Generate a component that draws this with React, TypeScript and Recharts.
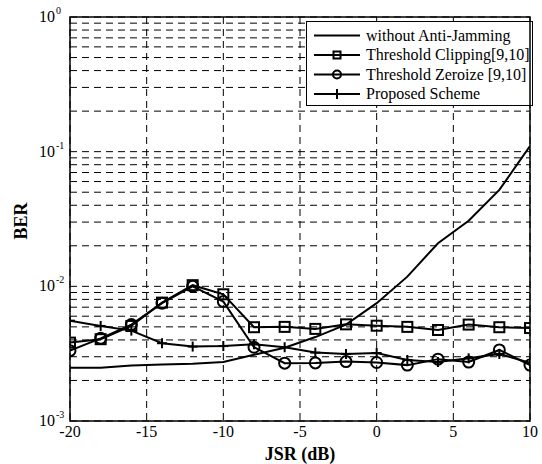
import React from "react";
import { LineChart, Line, XAxis, YAxis, CartesianGrid, ReferenceArea } from "recharts";

// JSR (dB) sample points
const jsr = [-20, -18, -16, -14, -12, -10, -8, -6, -4, -2, 0, 2, 4, 6, 8, 10];

// BER
const withoutAJ = [0.00249, 0.00249, 0.00258, 0.00263, 0.00266, 0.00274, 0.0031, 0.0035, 0.0042, 0.0052, 0.0075, 0.0118, 0.0209, 0.0307, 0.052, 0.11];
const clipping = [0.00382, 0.00405, 0.00508, 0.00757, 0.0102, 0.00873, 0.00497, 0.005, 0.00483, 0.00522, 0.0051, 0.005, 0.00474, 0.0052, 0.00497, 0.0049];
const zeroize = [0.00333, 0.00411, 0.0052, 0.0075, 0.01, 0.0077, 0.00353, 0.00269, 0.0027, 0.00276, 0.00272, 0.0026, 0.00288, 0.00274, 0.00337, 0.0026];
const proposed = [0.00556, 0.00508, 0.00469, 0.00378, 0.00357, 0.0036, 0.00372, 0.00353, 0.00322, 0.00315, 0.0032, 0.00284, 0.00274, 0.00292, 0.00315, 0.0027];

const seriesNames = ["without Anti-Jamming", "Threshold Clipping[9,10]", "Threshold Zeroize [9,10]", "Proposed Scheme"];

const xTicks = [-20, -15, -10, -5, 0, 5, 10];
const decades = [0.001, 0.01, 0.1, 1];
// major + minor log ticks (1..9 per decade)
const yTicks: number[] = [];
for (let d = 0; d < 3; d++) {
  for (let m = 1; m <= 9; m++) yTicks.push(Number((m * decades[d]).toPrecision(3)));
}
yTicks.push(1);

const data = jsr.map((x, i) => ({
  jsr: x,
  noaj: withoutAJ[i],
  clip: clipping[i],
  zero: zeroize[i],
  prop: proposed[i],
}));

const FONT = "'Liberation Serif', 'Times New Roman', serif";
const serif = { fontFamily: FONT };

const Square = ({ cx, cy }: any) => (
  <rect x={cx - 5} y={cy - 5} width={10} height={10} fill="none" stroke="#000" strokeWidth={2} />
);
const Circle = ({ cx, cy }: any) => <circle cx={cx} cy={cy} r={5.5} fill="none" stroke="#000" strokeWidth={2} />;
const Plus = ({ cx, cy }: any) => (
  <g stroke="#000" strokeWidth={2}>
    <line x1={cx - 5} y1={cy} x2={cx + 5} y2={cy} />
    <line x1={cx} y1={cy - 5} x2={cx} y2={cy + 5} />
  </g>
);

const YTick = ({ y, payload }: any) => {
  const v = payload.value;
  const exp = Math.round(Math.log10(v));
  if (Math.abs(v - Math.pow(10, exp)) > 1e-9) return null;
  return (
    <g fill="#000">
      <text x={55} y={y + 5} textAnchor="end" fontSize={16} style={serif}>10</text>
      <text x={56} y={y - 3} fontSize={10} style={serif}>{exp}</text>
    </g>
  );
};

const XTick = ({ x, payload }: any) => (
  <text x={x} y={437} textAnchor="middle" fontSize={16} style={serif} fill="#000">
    {payload.value}
  </text>
);

const LegendBox = ({ x, y }: { x: number; y: number }) => (
  <g transform={`translate(${x},${y})`}>
    <rect x={0.5} y={0.5} width={226} height={84} fill="#fff" stroke="#000" />
    {seriesNames.map((name, i) => {
      const cy = 14.5 + i * 19.5;
      return (
        <g key={name}>
          <line x1={8} y1={cy} x2={54} y2={cy} stroke="#000" strokeWidth={2} />
          {i === 1 && <rect x={27.5} y={cy - 3.5} width={7} height={7} fill="none" stroke="#000" strokeWidth={2} />}
          {i === 2 && <circle cx={31} cy={cy} r={4} fill="none" stroke="#000" strokeWidth={2} />}
          {i === 3 && <Plus cx={31} cy={cy} />}
          <text x={60} y={cy + 5} fontSize={16} style={serif} fill="#000">{name}</text>
        </g>
      );
    })}
  </g>
);

export default function App() {
  return (
    <div style={{ position: "absolute", left: 0, top: 0, width: 542, height: 464, background: "#fff", fontFamily: FONT }}>
      <LineChart width={542} height={464} data={data} margin={{ top: 17, right: 12, left: 0, bottom: 0 }}>
        <CartesianGrid stroke="#000" strokeDasharray="7 5" strokeWidth={1} />
        <XAxis
          dataKey="jsr"
          type="number"
          domain={[-20, 10]}
          ticks={xTicks}
          height={43}
          tick={<XTick />}
          tickLine={false}
          axisLine={false}
          allowDataOverflow
        />
        <YAxis
          type="number"
          scale="log"
          domain={[0.001, 1]}
          ticks={yTicks}
          width={70}
          tick={<YTick />}
          tickLine={false}
          axisLine={false}
          allowDataOverflow
          interval={0}
        />
        <ReferenceArea x1={-20} x2={10} y1={0.001} y2={1} fill="none" stroke="#000" strokeWidth={1.5} fillOpacity={0} />
        <Line dataKey="noaj" stroke="#000" strokeWidth={2} dot={false} isAnimationActive={false} />
        <Line dataKey="clip" stroke="#000" strokeWidth={2} dot={<Square />} isAnimationActive={false} />
        <Line dataKey="zero" stroke="#000" strokeWidth={2} dot={<Circle />} isAnimationActive={false} />
        <Line dataKey="prop" stroke="#000" strokeWidth={2} dot={<Plus />} isAnimationActive={false} />
        <LegendBox x={306} y={21} />
        <text x={300} y={460} textAnchor="middle" fontSize={18} fontWeight="bold" style={serif} fill="#000">
          JSR (dB)
        </text>
        <text x={27} y={221} textAnchor="middle" fontSize={18} fontWeight="bold" style={serif} fill="#000" transform="rotate(-90 27 221)">
          BER
        </text>
      </LineChart>
    </div>
  );
}
